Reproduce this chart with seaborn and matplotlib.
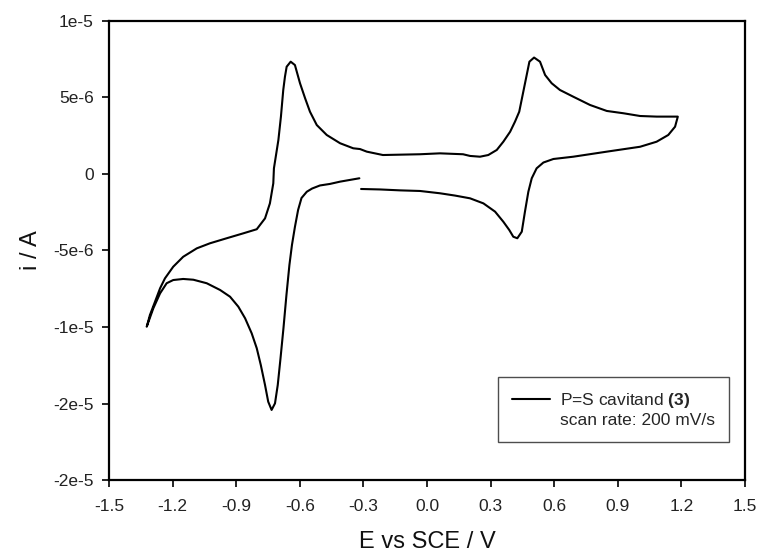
import numpy as np
import pandas as pd
import seaborn as sns
import matplotlib
matplotlib.use("Agg")
import matplotlib.pyplot as plt
from matplotlib.lines import Line2D
from matplotlib.ticker import FixedLocator, FixedFormatter

# Cyclic voltammogram of the P=S cavitand (3), scan rate 200 mV/s.
# Potential in V vs SCE, current in microamps, listed in scan order:
# start near -0.31 V, sweep to +1.18 V, back to -1.32 V, then up to -0.32 V.
potential_V = [
    # forward sweep, lower branch
    -0.311, -0.222, -0.127, -0.033, 0.061, 0.132, 0.203, 0.266, 0.321, 0.360,
    0.388, 0.407, 0.426, 0.447, 0.462, 0.478, 0.494, 0.517, 0.549, 0.596,
    0.690, 0.848, 1.005, 1.083, 1.138, 1.170, 1.183,
    # reverse sweep, upper branch
    1.083, 1.005, 0.926, 0.848, 0.769, 0.690, 0.627, 0.588, 0.557, 0.533,
    0.505, 0.483, 0.467, 0.451, 0.435, 0.415, 0.392, 0.360, 0.329, 0.289,
    0.250, 0.203, 0.170, 0.061, -0.033, -0.208, -0.284, -0.316, -0.348, -0.410,
    -0.473, -0.520, -0.552, -0.575, -0.599, -0.623, -0.643, -0.662, -0.670, -0.678,
    -0.689, -0.701, -0.722, -0.725, -0.741, -0.764, -0.803, -0.867, -0.945, -1.024,
    -1.086, -1.150, -1.197, -1.236, -1.259, -1.283, -1.307, -1.322,
    # final sweep back towards the start
    -1.291, -1.259, -1.228, -1.197, -1.150, -1.102, -1.039, -0.976, -0.929, -0.890,
    -0.858, -0.827, -0.803, -0.784, -0.764, -0.749, -0.733, -0.717, -0.704, -0.691,
    -0.677, -0.663, -0.649, -0.637, -0.623, -0.608, -0.592, -0.567, -0.542, -0.505,
    -0.458, -0.410, -0.319,
]
current_uA = [
    -0.98, -1.01, -1.07, -1.11, -1.26, -1.41, -1.59, -1.92, -2.46, -3.12,
    -3.66, -4.10, -4.20, -3.77, -2.46, -1.16, -0.28, 0.37, 0.75, 0.98,
    1.13, 1.46, 1.78, 2.11, 2.55, 3.09, 3.75,
    3.75, 3.79, 3.97, 4.12, 4.51, 5.05, 5.49, 5.93, 6.47, 7.34,
    7.61, 7.34, 6.25, 5.16, 4.07, 3.42, 2.76, 2.11, 1.57, 1.24,
    1.13, 1.18, 1.29, 1.35, 1.29, 1.24, 1.46, 1.63, 1.68, 2.01,
    2.55, 3.20, 4.07, 4.95, 5.93, 7.12, 7.34, 7.01, 6.36, 5.49,
    3.75, 2.22, 0.37, -0.61, -1.92, -2.90, -3.61, -3.88, -4.20, -4.53,
    -4.86, -5.41, -6.06, -6.82, -7.47, -8.35, -9.22, -9.98,
    -8.78, -7.80, -7.14, -6.93, -6.86, -6.91, -7.14, -7.58, -8.02, -8.67,
    -9.43, -10.41, -11.39, -12.48, -13.79, -14.88, -15.42, -14.99, -13.79, -12.05,
    -10.07, -7.91, -5.95, -4.64, -3.46, -2.35, -1.57, -1.16, -0.95, -0.75,
    -0.65, -0.50, -0.28,
]

x_ticks = [-1.5, -1.2, -0.9, -0.6, -0.3, 0.0, 0.3, 0.6, 0.9, 1.2, 1.5]
x_tick_labels = ["-1.5", "-1.2", "-0.9", "-0.6", "-0.3", "0.0", "0.3", "0.6", "0.9", "1.2", "1.5"]
y_ticks = [1e-5, 5e-6, 0.0, -5e-6, -1e-5, -1.5e-5, -2e-5]
y_tick_labels = ["1e-5", "5e-6", "0", "-5e-6", "-1e-5", "-2e-5", "-2e-5"]

series_label = r"P=S cavitand $\mathbf{(3)}$"
rate_label = "scan rate: 200 mV/s"

df = pd.DataFrame({
    "E": potential_V,
    "i": np.array(current_uA) * 1e-6,
})

sns.set_theme(style="white")
plt.rcParams["font.family"] = ["Liberation Sans", "DejaVu Sans"]
plt.rcParams["mathtext.fontset"] = "custom"
plt.rcParams["mathtext.rm"] = "Liberation Sans"
plt.rcParams["mathtext.bf"] = "Liberation Sans:bold"
plt.rcParams["axes.unicode_minus"] = False

fig = plt.figure(figsize=(7.6, 5.55), dpi=100)
ax = fig.add_axes([0.1434, 0.1351, 0.8369, 0.8271])

sns.lineplot(data=df, x="E", y="i", sort=False, estimator=None,
             color="black", linewidth=1.5, ax=ax, legend=False)

ax.set_xlim(-1.5, 1.5)
ax.set_ylim(-2e-5, 1e-5)
ax.xaxis.set_major_locator(FixedLocator(x_ticks))
ax.xaxis.set_major_formatter(FixedFormatter(x_tick_labels))
ax.yaxis.set_major_locator(FixedLocator(y_ticks))
ax.yaxis.set_major_formatter(FixedFormatter(y_tick_labels))

for side, spine in ax.spines.items():
    spine.set_visible(True)
    spine.set_color("black")
    spine.set_linewidth(1.6)

ax.tick_params(axis="both", which="major", direction="out", length=5,
               width=1.2, color="black", labelsize=12.5, labelcolor="#222222",
               bottom=True, left=True, top=False, right=False)
ax.tick_params(axis="x", pad=9)
ax.tick_params(axis="y", pad=6)

ax.set_xlabel("E vs SCE / V", fontsize=17, color="#111111", labelpad=12)
ax.set_ylabel("i / A", fontsize=17, color="#111111", labelpad=8)

handles = [Line2D([], [], color="black", linewidth=1.5),
           Line2D([], [], color="none")]
leg = ax.legend(handles, [series_label, rate_label],
                loc="upper left", bbox_to_anchor=(0.6116, 0.2244),
                borderaxespad=0, fontsize=12.5, frameon=True, fancybox=False,
                edgecolor="#222222", handlelength=2.2, handletextpad=0.6,
                borderpad=0.8, labelspacing=0.15)
leg.get_frame().set_linewidth(1.0)

fig.savefig("out.png", dpi=100, facecolor="white")
